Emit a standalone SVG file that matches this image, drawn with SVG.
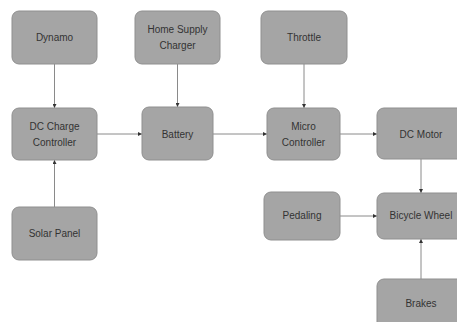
<svg xmlns="http://www.w3.org/2000/svg" width="457" height="322" viewBox="0 0 457 322">
<style>
.box{fill:#a5a5a5;stroke:#8f8f8f;stroke-width:1}
.t{font-family:"Liberation Sans",Arial,sans-serif;font-size:10px;fill:#333;text-anchor:middle}
.c{stroke:#8a8a8a;stroke-width:1;fill:none;marker-end:url(#ah)}
</style>
<defs>
<marker id="ah" markerWidth="4" markerHeight="4" refX="4" refY="2" orient="auto" markerUnits="userSpaceOnUse">
<path d="M0,0 L4,2 L0,4 Z" fill="#333"/>
</marker>
</defs>
<rect width="457" height="322" fill="#fff"/>
<g id="connectors">
<line class="c" x1="54.5" y1="64" x2="54.5" y2="108"/>
<line class="c" x1="177.5" y1="64" x2="177.5" y2="107"/>
<line class="c" x1="54.5" y1="207" x2="54.5" y2="160"/>
<line class="c" x1="97" y1="134" x2="142" y2="134"/>
<line class="c" x1="213" y1="134" x2="267" y2="134"/>
<line class="c" x1="304" y1="64" x2="304" y2="108"/>
<line class="c" x1="340" y1="134" x2="377" y2="134"/>
<line class="c" x1="421" y1="159" x2="421" y2="193"/>
<line class="c" x1="340" y1="216" x2="377" y2="216"/>
<line class="c" x1="421" y1="279" x2="421" y2="239"/>
</g>
<g id="dynamo"><rect class="box" x="12" y="11" width="85" height="53" rx="7"/><text class="t" x="54.5" y="41">Dynamo</text></g>
<g id="home-supply-charger"><rect class="box" x="135" y="11" width="85" height="53" rx="7"/><text class="t" x="177.5" y="33">Home Supply</text><text class="t" x="177.5" y="49">Charger</text></g>
<g id="throttle"><rect class="box" x="261" y="11" width="86" height="53" rx="7"/><text class="t" x="304" y="41">Throttle</text></g>
<g id="dc-charge-controller"><rect class="box" x="12" y="108" width="85" height="52" rx="7"/><text class="t" x="54.5" y="130">DC Charge</text><text class="t" x="54.5" y="146">Controller</text></g>
<g id="battery"><rect class="box" x="142" y="107" width="71" height="53" rx="7"/><text class="t" x="177.5" y="138">Battery</text></g>
<g id="micro-controller"><rect class="box" x="267" y="108" width="73" height="52" rx="7"/><text class="t" x="303.5" y="130">Micro</text><text class="t" x="303.5" y="146">Controller</text></g>
<g id="dc-motor"><rect class="box" x="377" y="108" width="88" height="51" rx="7"/><text class="t" x="421" y="138">DC Motor</text></g>
<g id="solar-panel"><rect class="box" x="12" y="207" width="85" height="53" rx="7"/><text class="t" x="54.5" y="237">Solar Panel</text></g>
<g id="pedaling"><rect class="box" x="264" y="192" width="76" height="48" rx="7"/><text class="t" x="302" y="219">Pedaling</text></g>
<g id="bicycle-wheel"><rect class="box" x="377" y="193" width="88" height="46" rx="7"/><text class="t" x="421" y="219">Bicycle Wheel</text></g>
<g id="brakes"><rect class="box" x="377" y="279" width="88" height="53" rx="7"/><text class="t" x="421" y="307">Brakes</text></g>
</svg>
